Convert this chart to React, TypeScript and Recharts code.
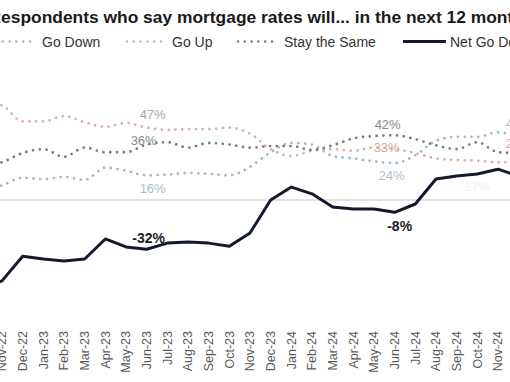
import React from 'react';
import { LineChart, Line, XAxis, YAxis, ReferenceLine } from 'recharts';

const months = [
  'Oct-22', 'Nov-22', 'Dec-22', 'Jan-23', 'Feb-23', 'Mar-23', 'Apr-23', 'May-23', 'Jun-23',
  'Jul-23', 'Aug-23', 'Sep-23', 'Oct-23', 'Nov-23', 'Dec-23', 'Jan-24', 'Feb-24', 'Mar-24',
  'Apr-24', 'May-24', 'Jun-24', 'Jul-24', 'Aug-24', 'Sep-24', 'Oct-24', 'Nov-24', 'Dec-24',
];

const goDown = [6, 9.5, 14.5, 13.5, 15, 13, 21, 19, 16, 16.5, 17.5, 17, 16, 21.5, 31, 37, 36, 28.5, 27, 25, 24, 29, 38.5, 41, 41, 44, 40];
const goUp = [64, 61.5, 51, 51, 54.5, 50.5, 47.5, 50, 47, 45.5, 46, 46, 47, 43, 33, 28.5, 32, 33, 32, 34, 33, 30.5, 27, 26, 25.5, 24.5, 25];
const stayTheSame = [22, 24.5, 30.5, 33, 28, 34, 31, 31, 36, 37.5, 34, 37, 36, 34, 35, 35, 32.5, 35.5, 40, 41.5, 42, 39.5, 35.5, 33, 37.5, 31, 30.5];
const netGoDown = [-58, -52.5, -36.5, -38.3, -39.6, -38.3, -25.3, -30.5, -32, -28, -27.3, -28, -30, -21.4, 0, 8.4, 4, -4.5, -5.8, -5.8, -8, -2.6, 13.6, 15.6, 16.9, 20, 15.5];

const titleText = 'Respondents who say mortgage rates will... in the next 12 months';

const data = months.map((month, i) => ({
  month,
  goDown: goDown[i],
  goUp: goUp[i],
  stayTheSame: stayTheSame[i],
  netGoDown: netGoDown[i],
}));

const FONT = '"Liberation Sans", Arial, Helvetica, sans-serif';

type LabelCfg = { index: number; dx: number; dy: number; color: string; bold?: boolean };

const series = [
  {
    key: 'goDown', name: 'Go Down', color: '#a3b8cc', dotted: true,
    labels: [
      { index: 8, dx: 6, dy: 13, color: '#a9bdd0' },
      { index: 20, dx: -3, dy: 12, color: '#b0c2d3' },
      { index: 26, dx: 0, dy: -15, color: '#a9bdd0' },
    ] as LabelCfg[],
  },
  {
    key: 'goUp', name: 'Go Up', color: '#dbb0ab', dotted: true,
    labels: [
      { index: 8, dx: 6, dy: -13, color: '#a8a8a8' },
      { index: 20, dx: -8, dy: -2, color: '#d9a39d' },
      { index: 26, dx: 0, dy: -18, color: '#d9a39d' },
    ] as LabelCfg[],
  },
  {
    key: 'stayTheSame', name: 'Stay the Same', color: '#7d7d7d', dotted: true,
    labels: [
      { index: 8, dx: -3, dy: -4, color: '#8a8a8a' },
      { index: 20, dx: -7, dy: -11, color: '#8a8a8a' },
    ] as LabelCfg[],
  },
  {
    key: 'netGoDown', name: 'Net Go Down', color: '#141a2e', dotted: false,
    labels: [
      { index: 8, dx: 2, dy: -11, color: '#1c1c28', bold: true },
      { index: 20, dx: 5, dy: 14, color: '#1c1c28', bold: true },
      { index: 24, dx: 0, dy: 13, color: '#efefef' },
    ] as LabelCfg[],
  },
];

const legendPos = [
  { lineX: -4, lineW: 38, textX: 42 },
  { lineX: 127, lineW: 38, textX: 172 },
  { lineX: 238, lineW: 39, textX: 284 },
  { lineX: 403, lineW: 43, textX: 450 },
];

function makeLabelDot(cfgs: LabelCfg[]) {
  return (props: any) => {
    const { cx, cy, index, value } = props;
    const c = cfgs.find((l) => l.index === index);
    if (!c || cx == null || cy == null) return <g key={`d-${index}`} />;
    const v = Array.isArray(value) ? value[1] : value;
    return (
      <text
        key={`d-${index}`}
        x={cx + c.dx}
        y={cy + c.dy}
        textAnchor="middle"
        dominantBaseline="central"
        fontFamily={FONT}
        fontSize={c.bold ? 14 : 13}
        fontWeight={c.bold ? 'bold' : 'normal'}
        fill={c.color}
      >
        {`${Math.round(v)}%`}
      </text>
    );
  };
}

const MonthTick = (props: any) => {
  const { x, y, payload } = props;
  return (
    <text
      x={x}
      y={y}
      transform={`rotate(-90 ${x} ${y})`}
      textAnchor="end"
      dy="0.35em"
      fontFamily={FONT}
      fontSize={12.5}
      fill="#595959"
    >
      {payload.value}
    </text>
  );
};

export default function App() {
  return (
    <div
      style={{
        position: 'fixed', left: 0, top: 0, width: 510, height: 382,
        overflow: 'hidden', background: '#ffffff',
      }}
    >
      <div style={{ position: 'absolute', left: -40, top: 0 }}>
        <LineChart
          width={600}
          height={382}
          data={data}
          margin={{ top: 92.2, right: 41.33, bottom: 59.6, left: 21.33 }}
        >
          <XAxis
            dataKey="month"
            interval={0}
            axisLine={false}
            tickLine={false}
            tickSize={0}
            tickMargin={38.6}
            tick={<MonthTick />}
          />
          <YAxis hide domain={[-60, 70]} allowDataOverflow />
          <ReferenceLine y={0} stroke="#d9d9d9" strokeWidth={1.5} />
          {series.map((s) => (
            <Line
              key={s.key}
              type={s.dotted ? 'monotone' : 'linear'}
              dataKey={s.key}
              name={s.name}
              stroke={s.color}
              strokeWidth={s.dotted ? 2.8 : 3}
              strokeDasharray={s.dotted ? '0 6.8' : undefined}
              strokeLinecap="round"
              strokeLinejoin="round"
              dot={makeLabelDot(s.labels)}
              activeDot={false}
              isAnimationActive={false}
            />
          ))}
        </LineChart>
      </div>
      <svg
        width={510}
        height={382}
        style={{ position: 'absolute', left: 0, top: 0, pointerEvents: 'none' }}
      >
        <text x={-11.5} y={22.5} fontFamily={FONT} fontSize={17.4} fontWeight="bold" fill="#1a1a1a">
          {titleText}
        </text>
        {series.map((s, i) => {
          const p = legendPos[i];
          return (
            <g key={s.key}>
              <line
                x1={p.lineX}
                x2={p.lineX + p.lineW}
                y1={41.5}
                y2={41.5}
                stroke={s.color}
                strokeWidth={s.dotted ? 2.6 : 3}
                strokeDasharray={s.dotted ? '0 6.8' : undefined}
                strokeLinecap={s.dotted ? 'round' : 'butt'}
              />
              <text x={p.textX} y={46.5} fontFamily={FONT} fontSize={14} fill="#333333">
                {s.name}
              </text>
            </g>
          );
        })}
      </svg>
    </div>
  );
}
